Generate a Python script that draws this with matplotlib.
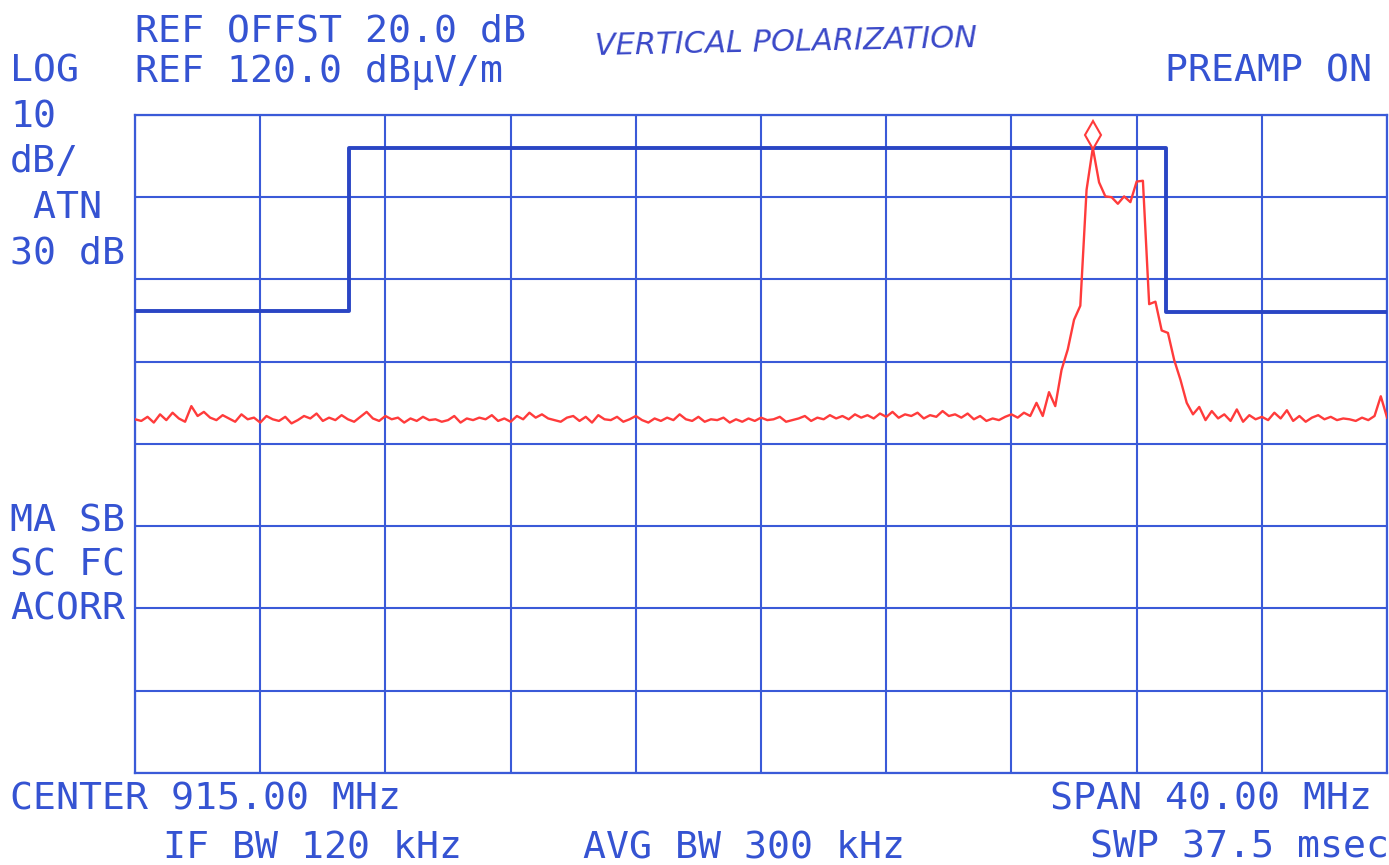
import numpy as np
import matplotlib
matplotlib.use("Agg")
from matplotlib import pyplot as plt

# sweep settings
CENTER_MHZ = 915.0
SPAN_MHZ = 40.0
REF_LEVEL = 120.0
DB_PER_DIV = 10.0

# trace levels in dBuV/m, one value every 0.2 MHz from 895 to 935 MHz
level = [
    83.0, 82.8, 83.3, 82.6, 83.6, 82.9, 83.8, 83.1, 82.7, 84.6, 83.4, 83.9,
    83.2, 82.9, 83.5, 83.1, 82.7, 83.6, 83.0, 83.2, 82.6, 83.4, 83.0, 82.8,
    83.3, 82.5, 82.9, 83.4, 83.1, 83.7, 82.8, 83.2, 82.9, 83.5, 83.0, 82.7,
    83.3, 83.9, 83.1, 82.8, 83.4, 83.0, 83.2, 82.6, 83.1, 82.8, 83.3, 82.9,
    83.0, 82.7, 82.9, 83.4, 82.6, 83.1, 82.9, 83.2, 83.0, 83.5, 82.8, 83.1,
    82.7, 83.4, 83.0, 83.8, 83.2, 83.6, 83.1, 82.9, 82.7, 83.2, 83.4, 82.8,
    83.3, 82.6, 83.5, 83.0, 82.9, 83.3, 82.7, 83.0, 83.4, 82.9, 82.6, 83.1,
    82.8, 83.2, 82.9, 83.6, 83.0, 82.8, 83.3, 82.7, 83.0, 82.9, 83.2, 82.6,
    83.0, 82.7, 83.1, 82.8, 83.2, 82.9, 83.0, 83.3, 82.7, 82.9, 83.1, 83.4,
    82.8, 83.2, 83.0, 83.5, 83.1, 83.4, 83.0, 83.6, 83.2, 83.5, 83.1, 83.7,
    83.3, 83.9, 83.2, 83.6, 83.4, 83.8, 83.1, 83.5, 83.3, 84.0, 83.4, 83.6,
    83.2, 83.7, 83.0, 83.4, 82.8, 83.1, 82.9, 83.3, 83.6, 83.2, 83.8, 83.4,
    85.0, 83.4, 86.3, 84.6, 89.0, 91.5, 95.1, 96.8, 110.9, 116.0, 111.8, 110.1,
    110.0, 109.2, 110.1, 109.4, 111.9, 112.0, 97.0, 97.3, 93.8, 93.5, 90.2, 87.8,
    85.0, 83.6,
    84.5, 82.9, 84.0, 83.1, 83.6, 82.8, 84.2, 82.7, 83.5, 83.0, 83.3, 82.9,
    83.8, 83.1, 84.1, 82.8, 83.4, 82.7, 83.2, 83.5, 83.0, 83.3, 82.9, 83.1,
    83.0, 82.8, 83.2, 82.9, 83.4, 85.8, 83.2,
]
freq = np.linspace(CENTER_MHZ - SPAN_MHZ / 2, CENTER_MHZ + SPAN_MHZ / 2, len(level))

# limit line (ISM band mask)
limit_freq = [895.0, 901.85, 927.95, 935.0]
limit_level = [96.2, 116.0, 96.0, 96.0]

marker_freq = 925.6
marker_level = 117.6

BLUE = '#3a5ad8'
LIMIT_BLUE = '#2a45c4'
RED = '#ff3b3b'
TXT = '#3553d2'

fig = plt.figure(figsize=(13.89, 8.65), dpi=100)
ax = fig.add_axes([0.0972, 0.1064, 0.9014, 0.7607])

f0 = CENTER_MHZ - SPAN_MHZ / 2
f1 = CENTER_MHZ + SPAN_MHZ / 2
ax.set_xlim(f0, f1)
ax.set_ylim(REF_LEVEL - 8 * DB_PER_DIV, REF_LEVEL)
ax.set_xticks(np.linspace(f0, f1, 11))
ax.set_yticks(np.arange(REF_LEVEL - 8 * DB_PER_DIV, REF_LEVEL + 1, DB_PER_DIV))
ax.grid(True, color=BLUE, linewidth=1.5)
ax.tick_params(length=0, labelbottom=False, labelleft=False)
for s in ax.spines.values():
    s.set_color(BLUE)
    s.set_linewidth(1.6)

ax.step(limit_freq, limit_level, where='post', color=LIMIT_BLUE, linewidth=2.8, zorder=3)
ax.plot(freq, level, color=RED, linewidth=1.7, zorder=4)
ax.plot([marker_freq], [marker_level], marker='d', markersize=14, markerfacecolor='white',
        markeredgecolor=RED, markeredgewidth=1.5, zorder=5, clip_on=False)

mono = dict(family='DejaVu Sans Mono', fontsize=27.5, color=TXT, va='center')

def put(x, y, s, ha='left'):
    fig.text(x / 1389, 1 - y / 865, s, ha=ha, **mono)

put(135, 32, 'REF OFFST 20.0 dB')
put(10, 72, 'LOG')
put(135, 72, 'REF 120.0 dB\u00b5V/m')
put(1372, 72, 'PREAMP ON', ha='right')
put(10, 117, '10')
put(10, 162, 'dB/')
put(10, 208, ' ATN')
put(10, 253, '30 dB')
put(10, 521, 'MA SB')
put(10, 566, 'SC FC')
put(10, 610, 'ACORR')
put(10, 800, 'CENTER 915.00 MHz')
put(1372, 800, 'SPAN 40.00 MHz', ha='right')
put(163, 848, 'IF BW 120 kHz')
put(583, 848, 'AVG BW 300 kHz')
put(1389, 848, 'SWP 37.5 msec', ha='right')

fig.text(595 / 1389, 1 - 42 / 865, 'VERTICAL POLARIZATION', ha='left', va='center',
         fontsize=22, style='italic', color='#3a48c8', family='DejaVu Sans',
         rotation=1.2)

fig.savefig('out.png', dpi=100, facecolor='white')
